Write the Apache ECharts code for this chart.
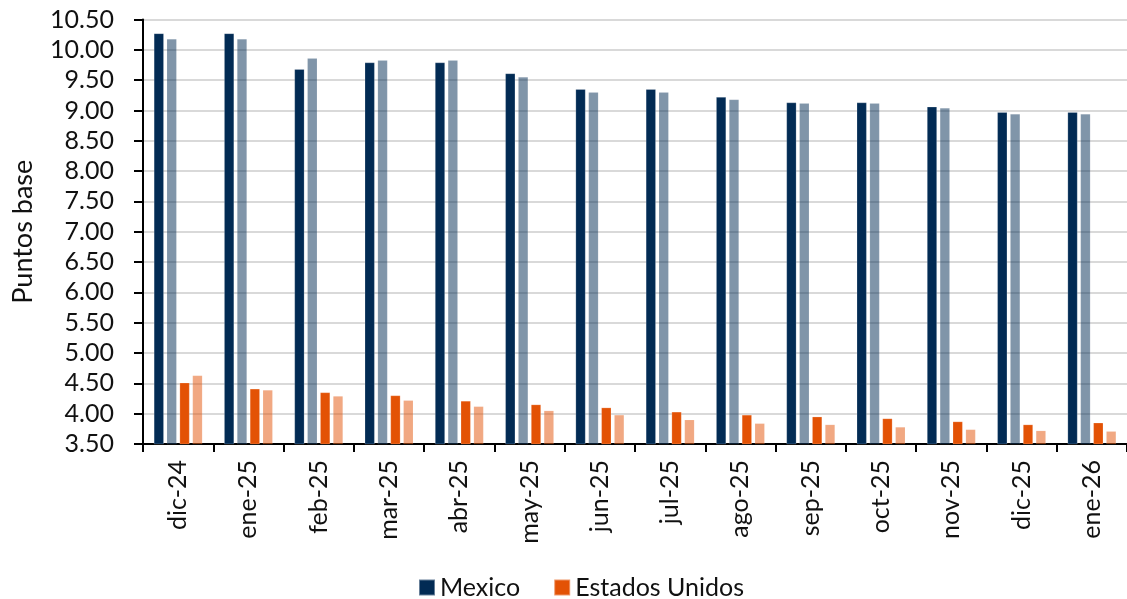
<!DOCTYPE html>
<html>
<head>
<meta charset="utf-8">
<script src="https://cdn.jsdelivr.net/npm/echarts@6/dist/echarts.min.js"></script>
<style>
  html, body { margin: 0; padding: 0; background: #ffffff; }
  #chart { width: 1127px; height: 599px; }
</style>
</head>
<body>
<div id="chart"></div>
<script>
// Meses del pronóstico
const categories = ['dic-24', 'ene-25', 'feb-25', 'mar-25', 'abr-25', 'may-25', 'jun-25',
  'jul-25', 'ago-25', 'sep-25', 'oct-25', 'nov-25', 'dic-25', 'ene-26'];

// Tasa esperada, México (encuesta actual y previa)
const mexicoActual = [10.27, 10.27, 9.68, 9.79, 9.79, 9.61, 9.35, 9.35, 9.22, 9.13, 9.13, 9.06, 8.97, 8.97];
const mexicoPrevia = [10.18, 10.18, 9.86, 9.83, 9.83, 9.55, 9.30, 9.30, 9.18, 9.12, 9.12, 9.04, 8.94, 8.94];

// Tasa esperada, Estados Unidos (encuesta actual y previa)
const eeuuActual = [4.51, 4.41, 4.35, 4.30, 4.21, 4.15, 4.10, 4.03, 3.98, 3.95, 3.92, 3.87, 3.82, 3.85];
const eeuuPrevia = [4.63, 4.39, 4.29, 4.22, 4.12, 4.05, 3.98, 3.90, 3.84, 3.82, 3.78, 3.74, 3.72, 3.71];

// Eje vertical
const yMin = 3.5, yMax = 10.5, yStep = 0.5;

const navy = '#022b54';
const orange = '#e35205';
const font = 'Lato';

const chart = echarts.init(document.getElementById('chart'), null, { renderer: 'canvas' });

function barSeries(name, data, color, opacity) {
  return {
    name: name,
    type: 'bar',
    data: data,
    barGap: '30%',
    barCategoryGap: '31%',
    itemStyle: { color: color, opacity: opacity, borderColor: 'rgba(255,255,255,0.4)', borderWidth: 0.5 },
    emphasis: { disabled: true }
  };
}

chart.setOption({
  animation: false,
  textStyle: { fontFamily: font },
  grid: { left: 143, right: -6, top: 19.5, bottom: 155, containLabel: false },
  legend: {
    data: ['Mexico', 'Estados Unidos'],
    left: 413,
    top: 570,
    itemWidth: 16,
    itemHeight: 16,
    itemGap: 33,
    icon: 'rect',
    textStyle: { fontFamily: font, fontSize: 25, color: '#111' }
  },
  xAxis: {
    type: 'category',
    data: categories,
    boundaryGap: true,
    axisLine: { lineStyle: { color: '#000', width: 2 } },
    axisTick: { show: true, length: 8, alignWithLabel: false, lineStyle: { color: '#000', width: 2 } },
    axisLabel: { rotate: 90, margin: 16, fontSize: 25, color: '#111', fontFamily: font, interval: 0 },
    splitLine: { show: false }
  },
  yAxis: {
    type: 'value',
    min: yMin,
    max: yMax,
    interval: yStep,
    name: 'Puntos base',
    nameLocation: 'middle',
    nameGap: 106,
    nameRotate: 90,
    nameTextStyle: { fontSize: 27, color: '#111', fontFamily: font },
    axisLine: { show: true, lineStyle: { color: '#000', width: 2 } },
    axisTick: { show: true, length: 9, lineStyle: { color: '#000', width: 2 } },
    axisLabel: { margin: 29, fontSize: 25, color: '#111', fontFamily: font,
      formatter: v => v.toFixed(2) },
    splitLine: { show: true, lineStyle: { color: '#d9d9d9', width: 2 } }
  },
  series: [
    barSeries('Mexico', mexicoActual, navy, 1),
    barSeries('Mexico previa', mexicoPrevia, navy, 0.5),
    barSeries('Estados Unidos', eeuuActual, orange, 1),
    barSeries('Estados Unidos previa', eeuuPrevia, orange, 0.5)
  ]
});
</script>
</body>
</html>
